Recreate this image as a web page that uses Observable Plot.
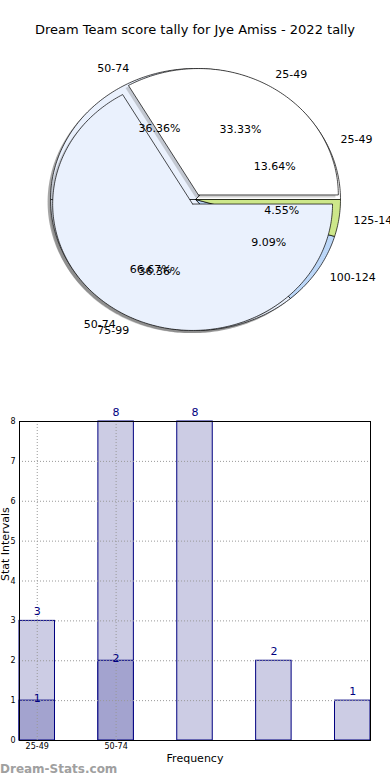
<!DOCTYPE html>
<html><head><meta charset="utf-8">
<script src="https://cdn.jsdelivr.net/npm/d3@7"></script>
<script src="https://cdn.jsdelivr.net/npm/@observablehq/plot@0.6"></script>
<style>
body{margin:0;background:#fff;font-family:"DejaVu Sans",sans-serif;}
#wrap{position:relative;width:390px;height:780px;overflow:hidden;background:#fff;}
#pie{position:absolute;top:0;left:0;}
#title{position:absolute;top:22px;left:0;width:390px;text-align:center;font-size:13px;color:#000;}
#bar{position:absolute;top:400px;left:0;}
#wm{position:absolute;left:0;top:762px;font-size:12px;color:#a0a0a0;font-weight:600;}
svg{background:transparent !important;}
</style></head><body>
<div id="wrap"><div id="pie"></div><div id="title">Dream Team score tally for Jye Amiss - 2022 tally</div><div id="bar"></div><div id="wm">Dream-Stats.com</div></div>
<script>
// ---- data ----
const categories = ["25-49", "50-74", "75-99", "100-124", "125-149"];
const allCounts = [3, 8, 8, 2, 1];
const seasonCategories = ["25-49", "50-74"];
const seasonCounts = [1, 2];
const xTickLabels = ["25-49", "50-74"];
const yTicks = [0, 1, 2, 3, 4, 5, 6, 7, 8];

// ---- styles ----
const allColors = ["#ffffff", "#eaf1fd", "#eaf1fd", "#bcd7f8", "#cde78a"];
const seasonColors = ["#ffffff", "#eaf1fd"];

function wedges(cats, counts, radius, explode, colors) {
  const total = d3.sum(counts);
  let cum = 0;
  return cats.map((c, i) => {
    const a0 = cum / total * 2 * Math.PI;
    cum += counts[i];
    const a1 = cum / total * 2 * Math.PI;
    const mid = (a0 + a1) / 2;
    const ox = explode[i] * Math.cos(mid), oy = explode[i] * Math.sin(mid);
    const pts = [{x: ox, y: oy}];
    const n = Math.max(2, Math.ceil((a1 - a0) / (Math.PI / 180)));
    for (let k = 0; k <= n; k++) {
      const a = a0 + (a1 - a0) * k / n;
      pts.push({x: ox + radius * Math.cos(a), y: oy + radius * Math.sin(a)});
    }
    pts.push({x: ox, y: oy});
    return {
      cat: c, color: colors[i], pts, mid, ox, oy, radius,
      pct: (counts[i] / total * 100).toFixed(2) + "%"
    };
  });
}

const lower = wedges(categories, allCounts, 1.0, [0, 0, 0, 0, 0], allColors);
const upper = wedges(seasonCategories, seasonCounts, 0.965, [0.04, 0.04], seasonColors);

function shadowMarks(ws, op) {
  return ws.map(w => Plot.line(w.pts.map(p => ({x: p.x - 0.02, y: p.y - 0.02})),
    {x: "x", y: "y", fill: "#4d4d4d", fillOpacity: op, stroke: "none"}));
}
function wedgeMarks(ws) {
  return ws.map(w => Plot.line(w.pts, {x: "x", y: "y", fill: w.color, stroke: "#000", strokeWidth: 0.7}));
}
function labelMarks(ws) {
  const lab = ws.map(w => ({
    t: w.cat,
    x: w.ox + 1.1 * w.radius * Math.cos(w.mid),
    y: w.oy + 1.1 * w.radius * Math.sin(w.mid),
    anchor: Math.cos(w.mid) > 0 ? "start" : "end"
  }));
  const pct = ws.map(w => ({
    t: w.pct,
    x: w.ox + 0.6 * w.radius * Math.cos(w.mid),
    y: w.oy + 0.6 * w.radius * Math.sin(w.mid)
  }));
  return [
    Plot.text(lab.filter(d => d.anchor === "start"), {x: "x", y: "y", text: "t", textAnchor: "start", fontSize: 11, fill: "#000"}),
    Plot.text(lab.filter(d => d.anchor === "end"), {x: "x", y: "y", text: "t", textAnchor: "end", fontSize: 11, fill: "#000"}),
    Plot.text(pct, {x: "x", y: "y", text: "t", fontSize: 11, fill: "#000"})
  ];
}

const cx = 195, cy = 199, rx = 145, ry = 131;
const pie = Plot.plot({
  width: 390, height: 400,
  margin: 0,
  style: {fontFamily: "DejaVu Sans", background: "transparent"},
  x: {type: "linear", domain: [-1, 1], range: [cx - rx, cx + rx], axis: null},
  y: {type: "linear", domain: [-1, 1], range: [cy + ry, cy - ry], axis: null},
  marks: [
    ...shadowMarks(lower, 0.5),
    ...wedgeMarks(lower),
    ...shadowMarks(upper, 0.25),
    ...wedgeMarks(upper),
    ...labelMarks(lower),
    ...labelMarks(upper)
  ]
});
document.getElementById("pie").appendChild(pie);

// ---- bar chart ----
const allBars = categories.map((c, i) => ({i, c, v: allCounts[i]}));
const seasonBars = seasonCategories.map((c, i) => ({i: categories.indexOf(c), c, v: seasonCounts[i]}));
const hw = 0.225;

const bar = Plot.plot({
  width: 390, height: 380,
  marginLeft: 19, marginRight: 20, marginTop: 21, marginBottom: 40,
  style: {fontFamily: "DejaVu Sans", background: "transparent"},
  x: {type: "linear", domain: [-hw, categories.length - 1 + hw], axis: null},
  y: {type: "linear", domain: [0, 8], axis: null},
  marks: [
    Plot.rect(allBars, {x1: d => d.i - hw, x2: d => d.i + hw, y1: 0, y2: "v", fill: "#ccccE4", stroke: "#000080", strokeWidth: 1}),
    Plot.rect(seasonBars, {x1: d => d.i - hw, x2: d => d.i + hw, y1: 0, y2: "v", fill: "#a3a3cf", stroke: "#000080", strokeWidth: 1}),
    Plot.ruleY(yTicks.slice(1, -1), {stroke: "#999", strokeDasharray: "1,2", strokeWidth: 1}),
    Plot.ruleX(xTickLabels.map((t, i) => i), {stroke: "#999", strokeDasharray: "1,2", strokeWidth: 1}),
    Plot.frame({stroke: "#000", strokeWidth: 1}),
    Plot.axisY({ticks: yTicks, tickSize: 0, tickPadding: 4, fontSize: 8, label: null, tickFormat: d => String(d)}),
    Plot.axisX({ticks: xTickLabels.map((t, i) => i), tickSize: 0, tickPadding: 3, fontSize: 8, label: null, tickFormat: i => xTickLabels[i]}),
    Plot.text(allBars, {x: "i", y: "v", text: d => String(d.v), dy: -9, fontSize: 11, fill: "#000080"}),
    Plot.text(seasonBars, {x: "i", y: "v", text: d => String(d.v), dy: -2, fontSize: 11, fill: "#000080"}),
    Plot.text(["Frequency"], {frameAnchor: "bottom", dy: 21, fontSize: 11, fill: "#000"}),
    Plot.text(["Stat Intervals"], {frameAnchor: "left", rotate: -90, dx: -14, fontSize: 11, fill: "#000"})
  ]
});
document.getElementById("bar").appendChild(bar);
</script>
</body></html>
